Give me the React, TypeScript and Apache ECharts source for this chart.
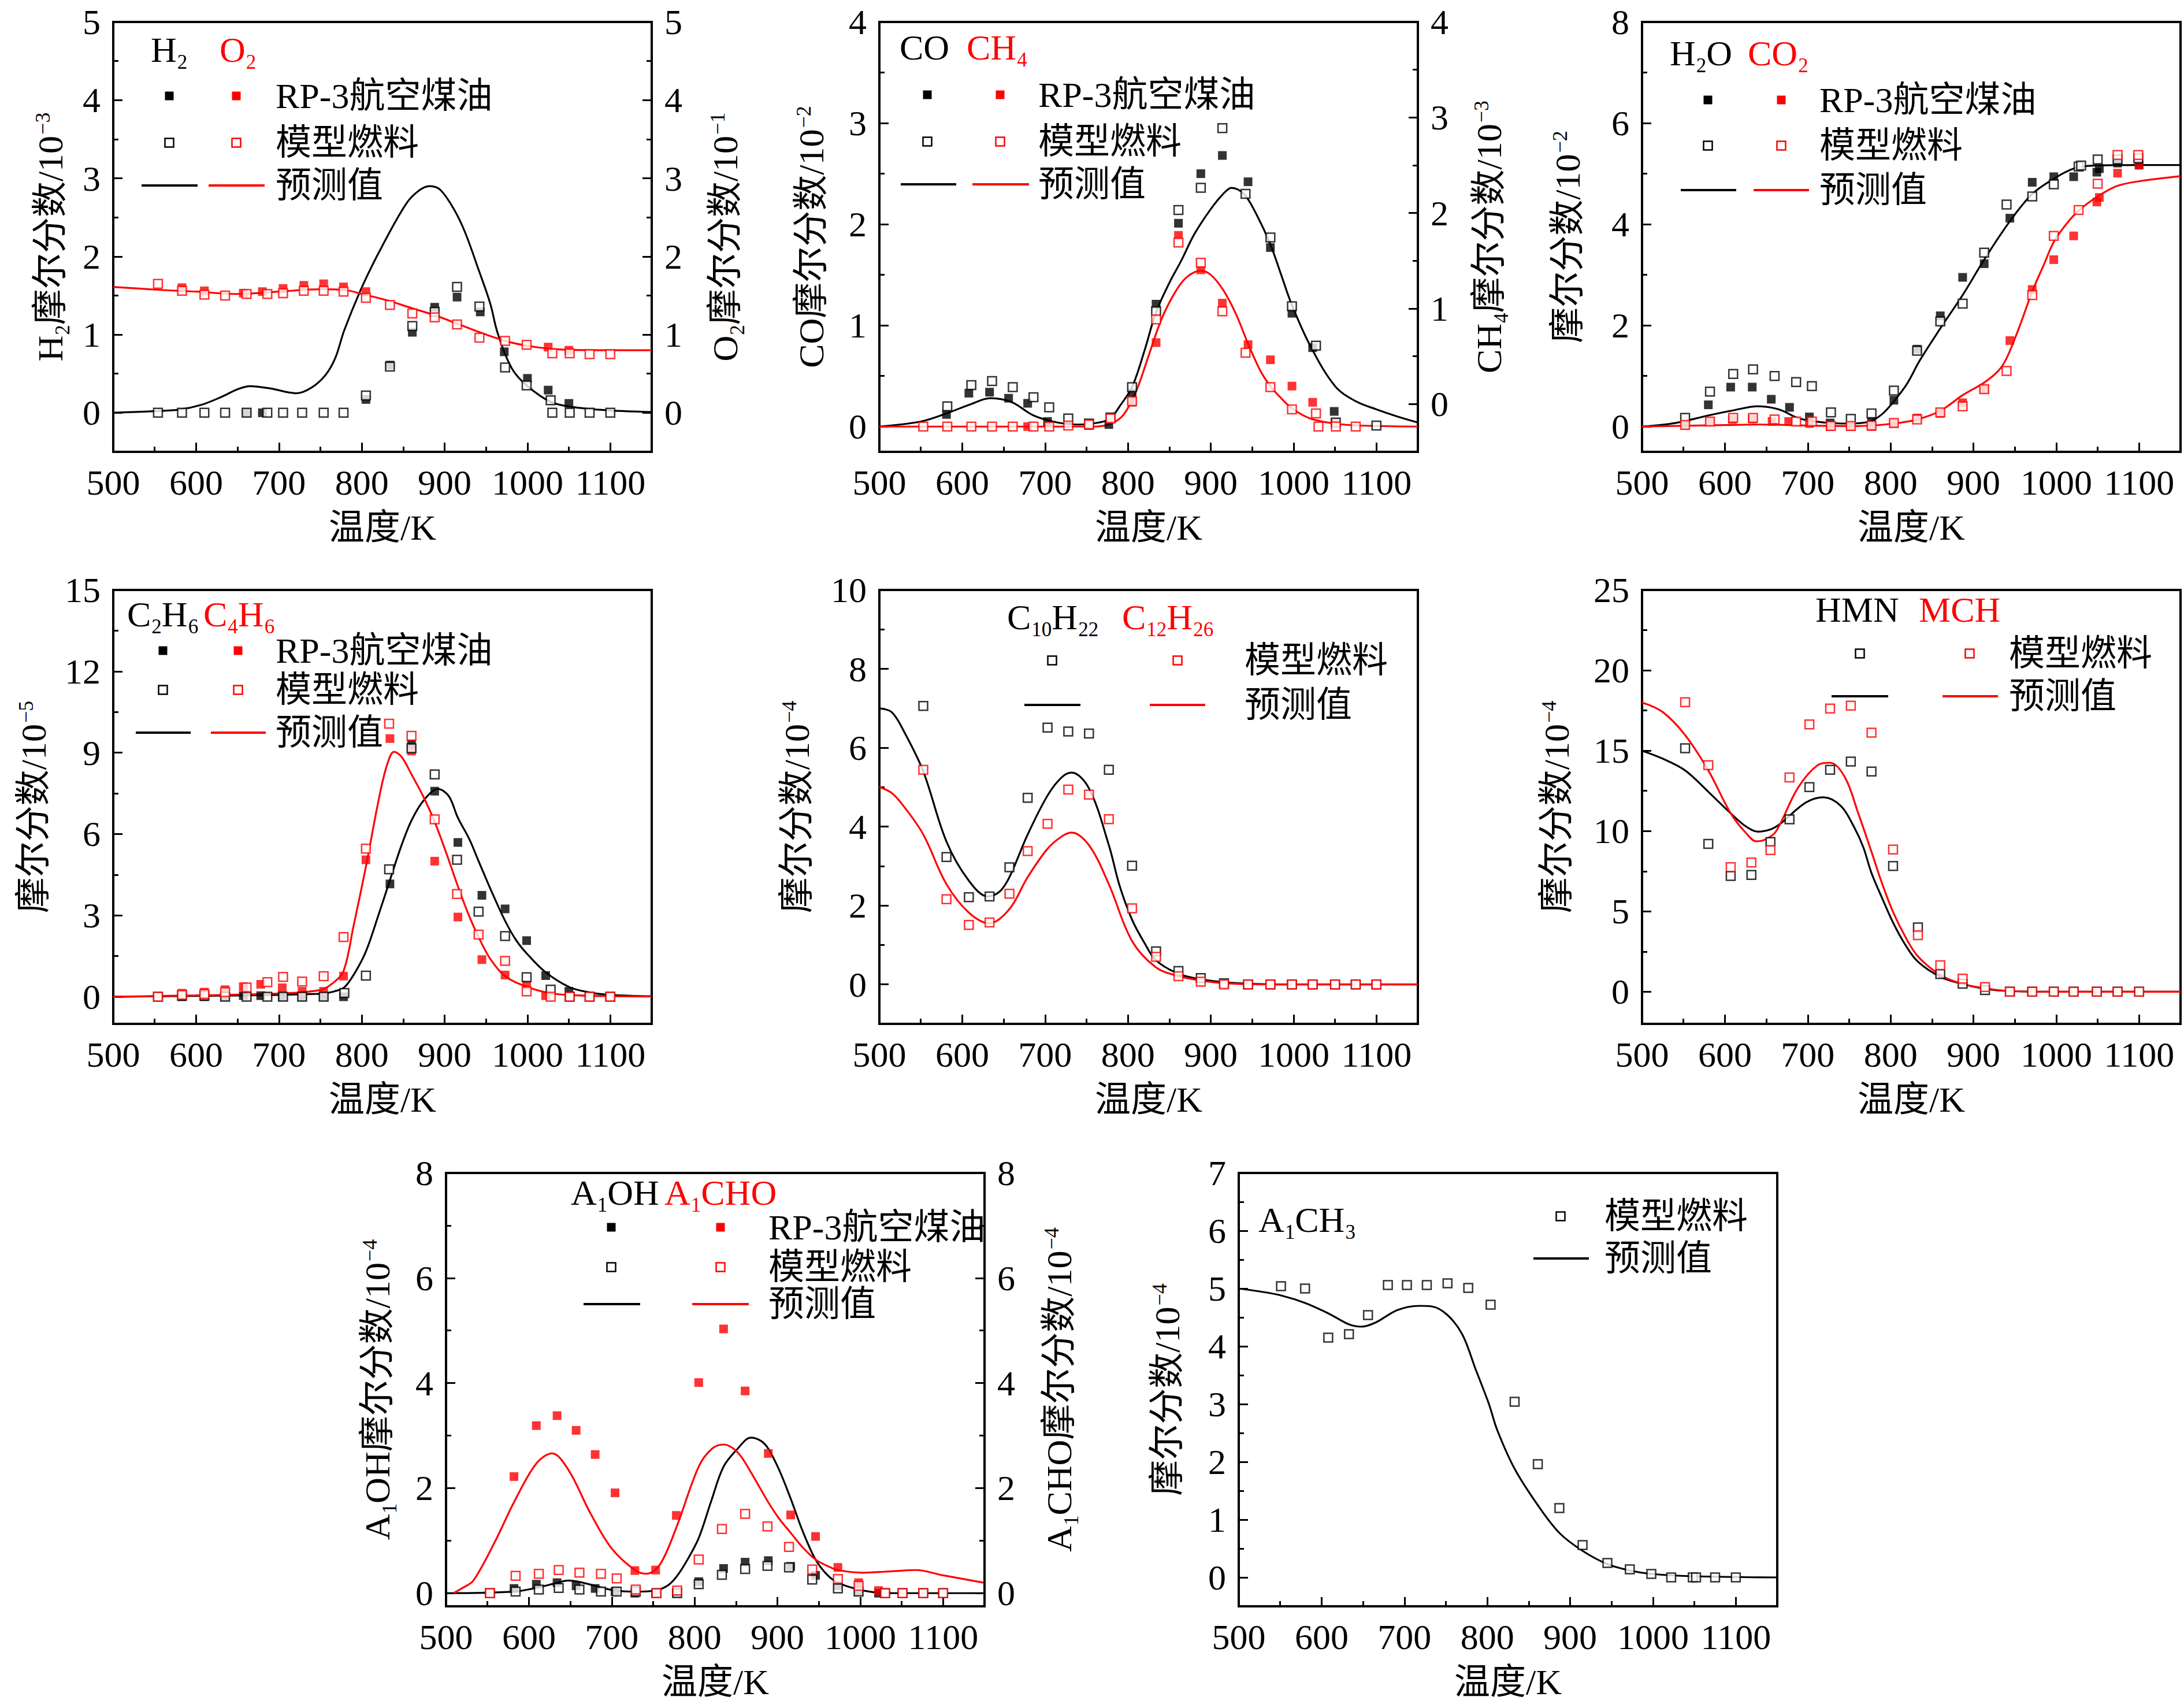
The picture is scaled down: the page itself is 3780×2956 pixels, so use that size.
import { useEffect, useRef } from 'react';
import * as echarts from 'echarts';

type Pt = [number, number];

// 温度轴刻度
const xMajor = [500, 600, 700, 800, 900, 1000, 1100];
const xMinor = [550, 650, 750, 850, 950, 1050];

// (a) H2 / O2
const h2Rp3: Pt[] = [[661, 0], [680, 0], [805, 0.17], [834, 0.61], [861, 1.03], [888, 1.35], [915, 1.48], [943, 1.29], [972, 0.78], [1000, 0.44], [1025, 0.29], [1050, 0.12]];
const h2Model: Pt[] = [[554, 0], [583, 0], [610, 0], [635, 0], [661, 0], [686, 0], [705, 0], [728, 0], [754, 0], [778, 0], [805, 0.22], [834, 0.59], [861, 1.11], [888, 1.29], [915, 1.61], [942, 1.36], [973, 0.58], [999, 0.35], [1028, 0.16], [1030, 0], [1051, 0], [1075, 0], [1100, 0]];
const o2Rp3: Pt[] = [[583, 1.6], [610, 1.56], [657, 1.53], [680, 1.55], [705, 1.59], [730, 1.63], [754, 1.65], [778, 1.61], [805, 1.55], [1025, 0.84], [1050, 0.8]];
const o2Model: Pt[] = [[554, 1.65], [583, 1.56], [610, 1.51], [635, 1.5], [661, 1.52], [686, 1.52], [705, 1.53], [730, 1.56], [754, 1.56], [778, 1.55], [805, 1.47], [834, 1.38], [861, 1.27], [888, 1.22], [915, 1.13], [942, 0.96], [973, 0.92], [999, 0.87], [1030, 0.76], [1051, 0.76], [1075, 0.75], [1100, 0.75]];
const h2Pred: Pt[] = [[500, 0], [550, 0.02], [580, 0.04], [606, 0.1], [630, 0.2], [650, 0.3], [665, 0.34], [690, 0.31], [721, 0.25], [739, 0.32], [756, 0.48], [768, 0.7], [779, 1.06], [802, 1.65], [825, 2.14], [854, 2.68], [870, 2.85], [882, 2.9], [895, 2.85], [912, 2.59], [925, 2.3], [941, 1.83], [955, 1.4], [964, 1.02], [981, 0.57], [999, 0.35], [1028, 0.14], [1057, 0.07], [1100, 0.03], [1150, 0.01]];
const o2Pred: Pt[] = [[500, 1.61], [560, 1.57], [600, 1.55], [650, 1.52], [700, 1.55], [750, 1.58], [780, 1.57], [800, 1.52], [830, 1.44], [860, 1.34], [890, 1.24], [920, 1.12], [950, 1.0], [980, 0.9], [1010, 0.84], [1040, 0.81], [1100, 0.8], [1150, 0.8]];

// (b) CO / CH4
const coRp3: Pt[] = [[581, 0.12], [608, 0.33], [633, 0.34], [656, 0.28], [679, 0.23], [703, 0.05], [753, 0.01], [777, 0.02], [805, 0.33], [834, 1.21], [861, 2.01], [888, 2.5], [914, 2.68], [945, 2.42], [972, 1.77], [998, 1.12], [1023, 0.78], [1049, 0.15]];
const coModel: Pt[] = [[582, 0.2], [611, 0.41], [636, 0.45], [661, 0.39], [686, 0.29], [705, 0.19], [728, 0.08], [753, 0.03], [779, 0.09], [805, 0.39], [834, 1.14], [861, 2.14], [888, 2.36], [914, 2.95], [942, 2.3], [972, 1.87], [998, 1.19], [1027, 0.8], [1051, 0.04], [1100, 0.01]];
const ch4Rp3: Pt[] = [[679, 0], [753, 0.01], [805, 0.24], [834, 0.83], [861, 1.89], [888, 1.55], [914, 1.22], [945, 0.81], [972, 0.66], [998, 0.4], [1023, 0.24], [1050, 0.04]];
const ch4Model: Pt[] = [[553, 0], [582, 0], [611, 0], [636, 0], [661, 0], [686, 0], [705, 0], [728, 0.01], [753, 0.02], [779, 0.08], [805, 0.25], [834, 1.06], [861, 1.82], [888, 1.62], [914, 1.14], [942, 0.73], [972, 0.39], [998, 0.17], [1027, 0.13], [1030, 0], [1051, 0], [1075, 0]];
const coPred: Pt[] = [[500, 0], [550, 0.05], [581, 0.13], [610, 0.22], [634, 0.28], [660, 0.24], [686, 0.11], [715, 0.04], [740, 0.02], [765, 0.04], [779, 0.08], [790, 0.2], [805, 0.39], [820, 0.75], [834, 1.13], [850, 1.42], [865, 1.65], [880, 1.9], [900, 2.15], [915, 2.3], [925, 2.36], [940, 2.3], [955, 2.1], [972, 1.8], [985, 1.5], [998, 1.2], [1020, 0.8], [1050, 0.4], [1075, 0.25], [1100, 0.17], [1125, 0.1], [1150, 0.04]];
const ch4Pred: Pt[] = [[500, 0], [760, 0], [780, 0.03], [795, 0.12], [810, 0.35], [825, 0.7], [840, 1.05], [855, 1.3], [870, 1.47], [888, 1.54], [900, 1.5], [915, 1.35], [930, 1.12], [946, 0.8], [960, 0.55], [972, 0.4], [985, 0.28], [998, 0.18], [1020, 0.08], [1050, 0.03], [1080, 0.01], [1150, 0]];

// (c) H2O / CO2
const h2oRp3: Pt[] = [[580, 0.43], [607, 0.78], [633, 0.78], [656, 0.54], [678, 0.38], [702, 0.19], [727, 0.07], [777, 0.1], [804, 0.52], [832, 1.53], [860, 2.19], [887, 2.95], [913, 3.22], [944, 4.12], [971, 4.83], [997, 4.94], [1021, 4.94], [1049, 5.03], [1052, 5.1], [1074, 5.21], [1100, 5.17]];
const h2oModel: Pt[] = [[552, 0.17], [582, 0.69], [610, 1.04], [634, 1.13], [660, 1.0], [686, 0.88], [705, 0.8], [728, 0.28], [752, 0.15], [777, 0.26], [804, 0.71], [832, 1.5], [860, 2.08], [887, 2.43], [913, 3.44], [940, 4.39], [971, 4.55], [997, 4.79], [1027, 5.14], [1030, 5.16], [1050, 5.28], [1074, 5.28], [1099, 5.3]];
const co2Rp3: Pt[] = [[552, 0.03], [582, 0.1], [609, 0.14], [633, 0.15], [657, 0.1], [677, 0.1], [702, 0.06], [727, 0], [752, 0], [777, 0], [804, 0.06], [832, 0.17], [860, 0.26], [887, 0.47], [913, 0.74], [944, 1.7], [971, 2.71], [997, 3.3], [1021, 3.77], [1049, 4.44], [1052, 4.53], [1074, 5.01], [1100, 5.17]];
const co2Model: Pt[] = [[552, 0.03], [582, 0.1], [610, 0.17], [634, 0.17], [660, 0.14], [686, 0.1], [705, 0.1], [728, 0.01], [752, 0.01], [777, 0.02], [804, 0.07], [832, 0.14], [860, 0.28], [887, 0.4], [913, 0.74], [940, 1.1], [971, 2.6], [997, 3.77], [1027, 4.28], [1050, 4.8], [1074, 5.37], [1099, 5.37]];
const h2oPred: Pt[] = [[500, 0], [540, 0.07], [580, 0.22], [610, 0.32], [640, 0.4], [665, 0.34], [690, 0.16], [720, 0.08], [750, 0.06], [775, 0.1], [790, 0.25], [805, 0.52], [820, 0.85], [835, 1.3], [860, 1.94], [887, 2.6], [913, 3.3], [944, 4.06], [971, 4.6], [997, 4.9], [1021, 5.1], [1045, 5.16], [1100, 5.17], [1150, 5.17]];
const co2Pred: Pt[] = [[500, 0], [600, 0.03], [640, 0.04], [700, 0.02], [760, 0.01], [804, 0.06], [832, 0.14], [860, 0.31], [887, 0.62], [913, 0.87], [930, 1.1], [940, 1.35], [955, 1.95], [971, 2.67], [985, 3.2], [997, 3.65], [1012, 4.0], [1027, 4.27], [1050, 4.55], [1074, 4.76], [1100, 4.85], [1150, 4.95]];

// (d) C2H6 / C4H6
const c2h6Rp3: Pt[] = [[583, 0], [610, 0], [635, 0], [657, 0.04], [678, 0.04], [704, 0], [728, 0], [754, 0], [778, 0], [834, 4.16], [860, 9.3], [888, 7.58], [916, 5.69], [945, 3.74], [973, 3.24], [999, 2.07], [1022, 0.78], [1050, 0.2]];
const c2h6Model: Pt[] = [[554, 0], [583, 0.04], [610, 0.04], [635, 0], [661, 0], [686, 0], [705, 0], [728, 0], [754, 0], [779, 0.14], [805, 0.78], [833, 4.7], [860, 9.16], [888, 8.2], [915, 5.05], [941, 3.14], [973, 2.24], [999, 0.72], [1028, 0.26], [1051, 0], [1075, 0], [1100, 0]];
const c4h6Rp3: Pt[] = [[583, 0.13], [610, 0.17], [635, 0.26], [657, 0.37], [678, 0.46], [704, 0.33], [728, 0.2], [754, 0.2], [778, 0.76], [805, 5.05], [834, 9.52], [860, 9.06], [888, 5.0], [916, 2.94], [945, 1.37], [973, 0.8], [999, 0.43], [1022, 0.04], [1050, 0]];
const c4h6Model: Pt[] = [[554, 0], [583, 0.07], [610, 0.1], [635, 0.17], [661, 0.34], [686, 0.54], [705, 0.73], [728, 0.56], [754, 0.76], [778, 2.2], [805, 5.46], [833, 10.07], [860, 9.62], [888, 6.54], [915, 3.79], [941, 2.29], [973, 1.32], [999, 0.2], [1028, 0], [1051, 0], [1075, 0], [1100, 0]];
const c2h6Pred: Pt[] = [[500, 0], [600, 0.03], [700, 0.07], [740, 0.1], [754, 0.12], [767, 0.2], [779, 0.35], [792, 0.9], [805, 1.67], [820, 3.0], [834, 4.3], [847, 5.5], [860, 6.5], [875, 7.25], [892, 7.66], [905, 7.4], [916, 6.6], [930, 5.8], [941, 5.0], [955, 4.0], [973, 2.8], [986, 2.1], [999, 1.6], [1022, 0.9], [1051, 0.35], [1075, 0.16], [1100, 0.07], [1150, 0.02]];
const c4h6Pred: Pt[] = [[500, 0], [600, 0.05], [700, 0.12], [750, 0.25], [765, 0.5], [778, 0.95], [790, 2.6], [805, 4.8], [820, 7.2], [830, 8.5], [839, 9.03], [848, 8.85], [860, 8.2], [874, 7.4], [888, 6.45], [902, 5.3], [915, 4.16], [928, 3.1], [941, 2.2], [955, 1.4], [973, 0.76], [999, 0.37], [1028, 0.13], [1060, 0.05], [1100, 0.02], [1150, 0.01]];

// (e) C10H22 / C12H26
const c10Model: Pt[] = [[553, 7.06], [581, 3.23], [608, 2.21], [633, 2.23], [657, 2.97], [679, 4.73], [703, 6.51], [728, 6.41], [753, 6.36], [777, 5.44], [805, 3.01], [834, 0.84], [861, 0.34], [888, 0.16], [916, 0.03], [945, 0], [972, 0], [998, 0], [1023, 0], [1050, 0], [1075, 0], [1100, 0]];
const c12Model: Pt[] = [[553, 5.44], [581, 2.16], [608, 1.51], [633, 1.57], [657, 2.3], [679, 3.38], [703, 4.07], [728, 4.94], [753, 4.81], [777, 4.19], [805, 1.93], [834, 0.7], [861, 0.21], [888, 0.07], [916, 0], [945, 0], [972, 0], [998, 0], [1023, 0], [1050, 0], [1075, 0], [1100, 0]];
const c10Pred: Pt[] = [[500, 7.0], [515, 6.9], [530, 6.4], [553, 5.4], [581, 3.62], [608, 2.63], [631, 2.23], [645, 2.35], [657, 2.72], [679, 3.8], [703, 4.79], [720, 5.25], [732, 5.37], [753, 4.97], [777, 3.53], [790, 2.5], [805, 1.64], [820, 1.05], [834, 0.61], [861, 0.27], [888, 0.13], [920, 0.05], [960, 0.01], [1000, 0], [1150, 0]];
const c12Pred: Pt[] = [[500, 5.0], [515, 4.85], [530, 4.5], [553, 3.8], [581, 2.54], [608, 1.82], [633, 1.55], [657, 1.91], [679, 2.72], [703, 3.44], [720, 3.75], [732, 3.85], [753, 3.53], [777, 2.54], [805, 1.1], [834, 0.43], [861, 0.21], [888, 0.1], [916, 0.03], [960, 0], [1150, 0]];

// (f) HMN / MCH
const hmnModel: Pt[] = [[552, 15.15], [580, 9.2], [607, 7.2], [632, 7.27], [655, 9.32], [678, 10.73], [702, 12.73], [727, 13.81], [752, 14.32], [777, 13.7], [803, 7.82], [833, 4.0], [860, 1.1], [887, 0.5], [914, 0.1], [944, 0], [971, 0], [997, 0], [1021, 0], [1049, 0], [1074, 0], [1100, 0]];
const mchModel: Pt[] = [[552, 18.02], [580, 14.1], [607, 7.75], [632, 8.04], [655, 8.81], [678, 13.33], [702, 16.63], [727, 17.62], [752, 17.8], [777, 16.12], [803, 8.85], [833, 3.52], [860, 1.65], [887, 0.81], [914, 0.29], [944, 0], [971, 0], [997, 0], [1021, 0], [1049, 0], [1074, 0], [1100, 0]];
const hmnPred: Pt[] = [[500, 15.0], [525, 14.5], [552, 13.77], [580, 12.44], [607, 11.1], [625, 10.3], [640, 9.96], [655, 10.1], [667, 10.46], [698, 11.78], [719, 12.1], [740, 11.56], [756, 10.24], [767, 9.0], [777, 7.38], [790, 5.8], [803, 4.3], [818, 2.9], [833, 1.87], [860, 0.93], [887, 0.48], [914, 0.18], [944, 0.04], [1000, 0], [1150, 0]];
const mchPred: Pt[] = [[500, 18.0], [525, 17.4], [552, 15.97], [580, 13.77], [607, 11.1], [625, 9.9], [638, 9.36], [650, 9.5], [662, 10.0], [688, 12.67], [712, 14.1], [727, 14.25], [745, 13.33], [761, 11.1], [777, 8.7], [790, 6.7], [803, 4.96], [818, 3.4], [833, 2.2], [860, 1.04], [887, 0.48], [914, 0.22], [944, 0.04], [1000, 0], [1150, 0]];

// (g) A1OH / A1CHO
const aohRp3: Pt[] = [[582, 0.09], [609, 0.17], [634, 0.2], [657, 0.14], [680, 0.09], [704, 0.03], [728, 0], [753, 0], [778, 0.01], [805, 0.22], [835, 0.47], [861, 0.59], [889, 0.62], [916, 0.51], [946, 0.34], [973, 0.14], [998, 0.03], [1022, 0]];
const aohModel: Pt[] = [[553, 0], [584, 0.03], [612, 0.07], [636, 0.1], [661, 0.07], [687, 0.03], [706, 0.03], [729, 0.03], [754, 0], [779, 0], [805, 0.17], [833, 0.35], [861, 0.46], [888, 0.52], [914, 0.49], [942, 0.26], [973, 0.09], [998, 0.03], [1030, 0], [1051, 0], [1076, 0], [1100, 0]];
const achoRp3: Pt[] = [[582, 2.22], [609, 3.19], [634, 3.38], [657, 3.1], [680, 2.64], [704, 1.91], [728, 0.43], [753, 0.44], [778, 1.48], [805, 4.01], [835, 5.03], [861, 3.85], [889, 2.66], [916, 1.49], [946, 1.08], [973, 0.49], [998, 0.2], [1022, 0.05]];
const achoModel: Pt[] = [[553, 0], [584, 0.33], [612, 0.37], [636, 0.44], [661, 0.39], [687, 0.37], [706, 0.28], [729, 0.07], [754, 0], [779, 0.05], [805, 0.64], [833, 1.22], [861, 1.51], [888, 1.27], [914, 0.88], [942, 0.45], [973, 0.27], [998, 0.14], [1030, 0], [1051, 0], [1076, 0], [1100, 0]];
const aohPred: Pt[] = [[500, 0], [582, 0.03], [609, 0.1], [630, 0.18], [648, 0.24], [665, 0.2], [680, 0.14], [704, 0.05], [730, 0.03], [753, 0.05], [768, 0.15], [778, 0.31], [790, 0.6], [805, 1.05], [820, 1.75], [835, 2.41], [852, 2.75], [868, 2.96], [880, 2.9], [889, 2.75], [902, 2.35], [916, 1.8], [930, 1.2], [946, 0.64], [960, 0.35], [973, 0.2], [998, 0.07], [1022, 0.01], [1050, 0], [1150, 0]];
const achoPred: Pt[] = [[509, 0], [520, 0.1], [533, 0.24], [559, 0.98], [582, 1.73], [609, 2.47], [628, 2.66], [648, 2.34], [674, 1.53], [700, 0.85], [728, 0.44], [742, 0.37], [758, 0.54], [778, 1.25], [805, 2.41], [821, 2.75], [835, 2.83], [852, 2.68], [868, 2.3], [889, 1.73], [902, 1.42], [916, 1.15], [930, 0.88], [946, 0.64], [960, 0.52], [973, 0.44], [1004, 0.39], [1041, 0.42], [1067, 0.44], [1100, 0.34], [1149, 0.2]];

// (h) A1CH3
const a1ch3Model: Pt[] = [[551, 5.04], [580, 5.0], [608, 4.15], [633, 4.21], [656, 4.54], [680, 5.06], [703, 5.06], [727, 5.06], [752, 5.09], [777, 5.01], [804, 4.72], [833, 3.04], [861, 1.96], [887, 1.2], [915, 0.56], [945, 0.25], [972, 0.14], [998, 0.06], [1022, 0], [1048, 0], [1052, 0], [1075, 0], [1100, 0]];
const a1ch3Pred: Pt[] = [[500, 5.0], [525, 4.95], [551, 4.88], [580, 4.75], [608, 4.57], [633, 4.38], [648, 4.34], [665, 4.41], [692, 4.63], [718, 4.7], [733, 4.69], [752, 4.54], [770, 4.2], [786, 3.6], [802, 3.0], [812, 2.55], [833, 1.88], [861, 1.25], [887, 0.77], [915, 0.46], [945, 0.23], [972, 0.12], [998, 0.06], [1048, 0.02], [1150, 0]];

const legendTexts = ['RP-3航空煤油', '模型燃料', '预测值'];

const FONT = '"Liberation Serif", "Noto Sans CJK SC", serif';
const FS = 62;
const BLACK = '#000000';
const RED = '#ff0000';
const PW = 932;

function richStyles(F: number) {
  const sub = Math.round(F * 0.56);
  const sup = Math.round(F * 0.58);
  const out: Record<string, any> = {};
  ([['k', BLACK], ['r', RED]] as [string, string][]).forEach(([key, color]) => {
    out[key + 'n'] = { fontSize: F, fontFamily: FONT, color, fill: color, verticalAlign: 'top', lineHeight: F };
    out[key + 's'] = { fontSize: sub, fontFamily: FONT, color, fill: color, verticalAlign: 'top', lineHeight: sub, padding: [Math.round(F * 0.84 - sub / 2), 0, 0, 1] };
    out[key + 'p'] = { fontSize: sup, fontFamily: FONT, color, fill: color, verticalAlign: 'top', lineHeight: sup, padding: [0, 0, 0, 2] };
  });
  return out;
}
const RICH = richStyles(FS);

// "H_2O" -> 富文本，_ 为下标，^ 为上标
function fmt(s: string, c: 'k' | 'r'): string {
  let out = '';
  let buf = '';
  const flush = () => {
    if (buf) {
      out += `{${c}n|${buf}}`;
      buf = '';
    }
  };
  for (let i = 0; i < s.length; i++) {
    const ch = s[i];
    if (ch === '_' || ch === '^') {
      flush();
      let t = '';
      if (s[i + 1] === '{') {
        const end = s.indexOf('}', i);
        t = s.slice(i + 2, end);
        i = end;
      } else {
        t = s[i + 1];
        i += 1;
      }
      out += `{${c}${ch === '_' ? 's' : 'p'}|${t}}`;
    } else {
      buf += ch;
    }
  }
  flush();
  return out;
}

interface SeriesDef {
  data: Pt[];
  kind: 'rp3' | 'model' | 'pred';
  color: string;
  right?: boolean;
}

interface Panel {
  left: number;
  top: number;
  height: number;
  y: [number, number];
  yMajor: number[];
  yMinor: number[];
  yName: string;
  yGap: number;
  right?: { y: [number, number]; name: string; gap: number };
  series: SeriesDef[];
  titles: { x: number; y: number; text: string; c: 'k' | 'r' }[];
  legend: { c1: number; c2?: number; tx: number; rows: number[]; lk: [number, number]; lr?: [number, number]; rp3: boolean };
}

const panels: Panel[] = [
  {
    left: 196, top: 38, height: 744, y: [-0.5, 5], yMajor: [0, 1, 2, 3, 4, 5], yMinor: [0.5, 1.5, 2.5, 3.5, 4.5],
    yName: 'H_2摩尔分数/10^{−3}', yGap: 78,
    right: { y: [-0.5, 5], name: 'O_2摩尔分数/10^{−1}', gap: 96 },
    series: [
      { data: h2Pred, kind: 'pred', color: BLACK },
      { data: o2Pred, kind: 'pred', color: RED, right: true },
      { data: h2Rp3, kind: 'rp3', color: BLACK },
      { data: o2Rp3, kind: 'rp3', color: RED, right: true },
      { data: h2Model, kind: 'model', color: BLACK },
      { data: o2Model, kind: 'model', color: RED, right: true },
    ],
    titles: [{ x: 261, y: 86, text: 'H_2', c: 'k' }, { x: 380, y: 86, text: 'O_2', c: 'r' }],
    legend: { c1: 293, c2: 409, tx: 477, rows: [166, 247, 321], lk: [245, 342], lr: [361, 458], rp3: true },
  },
  {
    left: 1522, top: 38, height: 744, y: [-0.25, 4], yMajor: [0, 1, 2, 3, 4], yMinor: [0.5, 1.5, 2.5, 3.5],
    yName: 'CO摩尔分数/10^{−2}', yGap: 87,
    right: { y: [-0.5, 4], name: 'CH_4摩尔分数/10^{−3}', gap: 92 },
    series: [
      { data: coPred, kind: 'pred', color: BLACK },
      { data: ch4Pred, kind: 'pred', color: RED },
      { data: coRp3, kind: 'rp3', color: BLACK },
      { data: ch4Rp3, kind: 'rp3', color: RED },
      { data: coModel, kind: 'model', color: BLACK },
      { data: ch4Model, kind: 'model', color: RED },
    ],
    titles: [{ x: 1557, y: 82, text: 'CO', c: 'k' }, { x: 1673, y: 82, text: 'CH_4', c: 'r' }],
    legend: { c1: 1605, c2: 1731, tx: 1797, rows: [164, 245, 319], lk: [1559, 1655], lr: [1683, 1781], rp3: true },
  },
  {
    left: 2842, top: 38, height: 744, y: [-0.5, 8], yMajor: [0, 2, 4, 6, 8], yMinor: [1, 3, 5, 7],
    yName: '摩尔分数/10^{−2}', yGap: 98,
    series: [
      { data: h2oPred, kind: 'pred', color: BLACK },
      { data: co2Pred, kind: 'pred', color: RED },
      { data: h2oRp3, kind: 'rp3', color: BLACK },
      { data: co2Rp3, kind: 'rp3', color: RED },
      { data: h2oModel, kind: 'model', color: BLACK },
      { data: co2Model, kind: 'model', color: RED },
    ],
    titles: [{ x: 2890, y: 92, text: 'H_2O', c: 'k' }, { x: 3025, y: 92, text: 'CO_2', c: 'r' }],
    legend: { c1: 2956, c2: 3083, tx: 3149, rows: [173, 252, 329], lk: [2909, 3005], lr: [3035, 3131], rp3: true },
  },
  {
    left: 196, top: 1021, height: 751, y: [-1, 15], yMajor: [0, 3, 6, 9, 12, 15], yMinor: [1.5, 4.5, 7.5, 10.5, 13.5],
    yName: '摩尔分数/10^{−5}', yGap: 107,
    series: [
      { data: c2h6Pred, kind: 'pred', color: BLACK },
      { data: c4h6Pred, kind: 'pred', color: RED },
      { data: c2h6Rp3, kind: 'rp3', color: BLACK },
      { data: c4h6Rp3, kind: 'rp3', color: RED },
      { data: c2h6Model, kind: 'model', color: BLACK },
      { data: c4h6Model, kind: 'model', color: RED },
    ],
    titles: [{ x: 220, y: 1063, text: 'C_2H_6', c: 'k' }, { x: 352, y: 1063, text: 'C_4H_6', c: 'r' }],
    legend: { c1: 282, c2: 412, tx: 477, rows: [1126, 1194, 1268], lk: [235, 330], lr: [365, 460], rp3: true },
  },
  {
    left: 1522, top: 1021, height: 751, y: [-1, 10], yMajor: [0, 2, 4, 6, 8, 10], yMinor: [1, 3, 5, 7, 9],
    yName: '摩尔分数/10^{−4}', yGap: 112,
    series: [
      { data: c10Pred, kind: 'pred', color: BLACK },
      { data: c12Pred, kind: 'pred', color: RED },
      { data: c10Model, kind: 'model', color: BLACK },
      { data: c12Model, kind: 'model', color: RED },
    ],
    titles: [{ x: 1743, y: 1068, text: 'C_{10}H_{22}', c: 'k' }, { x: 1942, y: 1068, text: 'C_{12}H_{26}', c: 'r' }],
    legend: { c1: 1821, c2: 2038, tx: 2154, rows: [1143, 1220], lk: [1773, 1870], lr: [1990, 2086], rp3: false },
  },
  {
    left: 2842, top: 1021, height: 751, y: [-2, 25], yMajor: [0, 5, 10, 15, 20, 25], yMinor: [2.5, 7.5, 12.5, 17.5, 22.5],
    yName: '摩尔分数/10^{−4}', yGap: 117,
    series: [
      { data: hmnPred, kind: 'pred', color: BLACK },
      { data: mchPred, kind: 'pred', color: RED },
      { data: hmnModel, kind: 'model', color: BLACK },
      { data: mchModel, kind: 'model', color: RED },
    ],
    titles: [{ x: 3142, y: 1055, text: 'HMN', c: 'k' }, { x: 3321, y: 1055, text: 'MCH', c: 'r' }],
    legend: { c1: 3219, c2: 3409, tx: 3477, rows: [1131, 1205], lk: [3170, 3268], lr: [3362, 3458], rp3: false },
  },
  {
    left: 772, top: 2030, height: 750, y: [-0.25, 8], yMajor: [0, 2, 4, 6, 8], yMinor: [1, 3, 5, 7],
    yName: 'A_1OH摩尔分数/10^{−4}', yGap: 88,
    right: { y: [-0.25, 8], name: 'A_1CHO摩尔分数/10^{−4}', gap: 98 },
    series: [
      { data: aohPred, kind: 'pred', color: BLACK },
      { data: achoPred, kind: 'pred', color: RED, right: true },
      { data: aohRp3, kind: 'rp3', color: BLACK },
      { data: achoRp3, kind: 'rp3', color: RED, right: true },
      { data: aohModel, kind: 'model', color: BLACK },
      { data: achoModel, kind: 'model', color: RED, right: true },
    ],
    titles: [{ x: 988, y: 2064, text: 'A_1OH', c: 'k' }, { x: 1150, y: 2064, text: 'A_1CHO', c: 'r' }],
    legend: { c1: 1058, c2: 1247, tx: 1330, rows: [2124, 2193, 2257], lk: [1010, 1108], lr: [1198, 1296], rp3: true },
  },
  {
    left: 2144, top: 2030, height: 750, y: [-0.5, 7], yMajor: [0, 1, 2, 3, 4, 5, 6, 7], yMinor: [0.5, 1.5, 2.5, 3.5, 4.5, 5.5, 6.5],
    yName: '摩尔分数/10^{−4}', yGap: 93,
    series: [
      { data: a1ch3Pred, kind: 'pred', color: BLACK },
      { data: a1ch3Model, kind: 'model', color: BLACK },
    ],
    titles: [{ x: 2178, y: 2111, text: 'A_1CH_3', c: 'k' }],
    legend: { c1: 2701, tx: 2777, rows: [2105, 2178], lk: [2654, 2750], rp3: false },
  },
];

const tickLine = { color: BLACK, width: 3 };
const labelStyle = { fontSize: FS, fontFamily: FONT, color: BLACK };
const plain = (v: number) => String(v);

function xAxisPair(gi: number) {
  return [
    {
      gridIndex: gi, type: 'value', position: 'bottom', min: 500, max: 1150,
      axisLine: { show: false, onZero: false },
      axisTick: { show: true, inside: true, length: 16, customValues: xMajor, lineStyle: tickLine },
      axisLabel: { show: true, customValues: xMajor, margin: 30, formatter: plain, lineHeight: 46, ...labelStyle },
      splitLine: { show: false },
      name: '温度/K', nameLocation: 'middle', nameGap: 100,
      nameTextStyle: { ...labelStyle },
    },
    {
      gridIndex: gi, type: 'value', position: 'bottom', min: 500, max: 1150,
      axisLine: { show: false, onZero: false },
      axisTick: { show: true, inside: true, length: 9, customValues: xMinor, lineStyle: tickLine },
      axisLabel: { show: false },
      splitLine: { show: false },
    },
  ];
}

function yAxisPair(gi: number, side: 'left' | 'right', range: [number, number], major: number[], minor: number[], name: string, gap: number) {
  return [
    {
      gridIndex: gi, type: 'value', position: side, min: range[0], max: range[1],
      axisLine: { show: false, onZero: false },
      axisTick: { show: true, inside: true, length: 16, customValues: major, lineStyle: tickLine },
      axisLabel: { show: true, customValues: major, margin: 22, formatter: plain, lineHeight: 44, ...labelStyle },
      splitLine: { show: false },
      name: fmt(name, 'k'), nameLocation: 'middle', nameRotate: 90, nameGap: gap,
      nameTextStyle: { ...labelStyle, rich: RICH },
    },
    {
      gridIndex: gi, type: 'value', position: side, min: range[0], max: range[1],
      axisLine: { show: false, onZero: false },
      axisTick: { show: true, inside: true, length: 9, customValues: minor, lineStyle: tickLine },
      axisLabel: { show: false },
      splitLine: { show: false },
    },
  ];
}

function makeSeries(s: SeriesDef, xi: number, yi: number) {
  if (s.kind === 'pred') {
    return {
      type: 'line', xAxisIndex: xi, yAxisIndex: yi, data: s.data,
      showSymbol: false, symbol: 'none', smooth: 0.35, silent: true, z: 2,
      lineStyle: { color: s.color, width: 3.2 },
    };
  }
  const filled = s.kind === 'rp3';
  return {
    type: 'scatter', xAxisIndex: xi, yAxisIndex: yi, data: s.data,
    symbol: 'rect', symbolSize: 15, silent: true, z: filled ? 3 : 4,
    itemStyle: filled ? { color: s.color } : { color: '#ffffff', borderColor: s.color, borderWidth: 2.5 },
  };
}

function square(x: number, y: number, color: string, filled: boolean) {
  return {
    type: 'rect', z: 10,
    shape: { x: x - 7.5, y: y - 7.5, width: 15, height: 15 },
    style: filled ? { fill: color } : { fill: '#ffffff', stroke: color, lineWidth: 2.5 },
  };
}

function hline(x1: number, x2: number, y: number, color: string) {
  return { type: 'line', z: 10, shape: { x1, y1: y, x2, y2: y }, style: { stroke: color, lineWidth: 4 } };
}

function label(x: number, y: number, text: string) {
  return {
    type: 'text', z: 10, x, y,
    style: { text, fontSize: FS, fontFamily: FONT, fill: BLACK, align: 'left', verticalAlign: 'middle', textAlign: 'left', textVerticalAlign: 'middle' },
  };
}

function legendEls(L: Panel['legend']) {
  const els: any[] = [];
  let r = 0;
  if (L.rp3) {
    els.push(square(L.c1, L.rows[r], BLACK, true));
    if (L.c2) els.push(square(L.c2, L.rows[r], RED, true));
    els.push(label(L.tx, L.rows[r], legendTexts[0]));
    r++;
  }
  els.push(square(L.c1, L.rows[r], BLACK, false));
  if (L.c2) els.push(square(L.c2, L.rows[r], RED, false));
  els.push(label(L.tx, L.rows[r], legendTexts[1]));
  r++;
  els.push(hline(L.lk[0], L.lk[1], L.rows[r], BLACK));
  if (L.lr) els.push(hline(L.lr[0], L.lr[1], L.rows[r], RED));
  els.push(label(L.tx, L.rows[r], legendTexts[2]));
  return els;
}

function buildOption() {
  const grid: any[] = [];
  const xAxis: any[] = [];
  const yAxis: any[] = [];
  const series: any[] = [];
  const elements: any[] = [];
  panels.forEach((p, gi) => {
    grid.push({ left: p.left, top: p.top, width: PW, height: p.height, show: true, borderColor: BLACK, borderWidth: 4, backgroundColor: 'transparent', containLabel: false });
    const xi = xAxis.length;
    xAxis.push(...xAxisPair(gi));
    const yl = yAxis.length;
    yAxis.push(...yAxisPair(gi, 'left', p.y, p.yMajor, p.yMinor, p.yName, p.yGap));
    let yr = yl;
    if (p.right) {
      yr = yAxis.length;
      yAxis.push(...yAxisPair(gi, 'right', p.right.y, p.yMajor.filter((v) => v <= p.right!.y[1]), p.yMinor, p.right.name, p.right.gap));
    }
    p.series.forEach((s) => series.push(makeSeries(s, xi, s.right ? yr : yl)));
    p.titles.forEach((t) => {
      elements.push({
        type: 'text', z: 10, x: t.x, y: t.y,
        style: { text: fmt(t.text, t.c), rich: RICH, fontSize: FS, fontFamily: FONT, align: 'left', verticalAlign: 'middle', textAlign: 'left', textVerticalAlign: 'middle' },
      });
    });
    elements.push(...legendEls(p.legend));
  });
  return {
    animation: false,
    backgroundColor: '#ffffff',
    grid,
    xAxis,
    yAxis,
    series,
    graphic: { elements },
  };
}

export default function App() {
  const chartRef = useRef<HTMLDivElement>(null);

  useEffect(() => {
    if (!chartRef.current) return;
    const chart = echarts.init(chartRef.current, undefined, { renderer: 'svg' });
    chart.setOption(buildOption() as any);
    return () => {
      chart.dispose();
    };
  }, []);

  return (
    <div
      ref={chartRef}
      style={{ position: 'absolute', left: 0, top: 0, width: '3780px', height: '2956px', background: '#ffffff' }}
    />
  );
}
